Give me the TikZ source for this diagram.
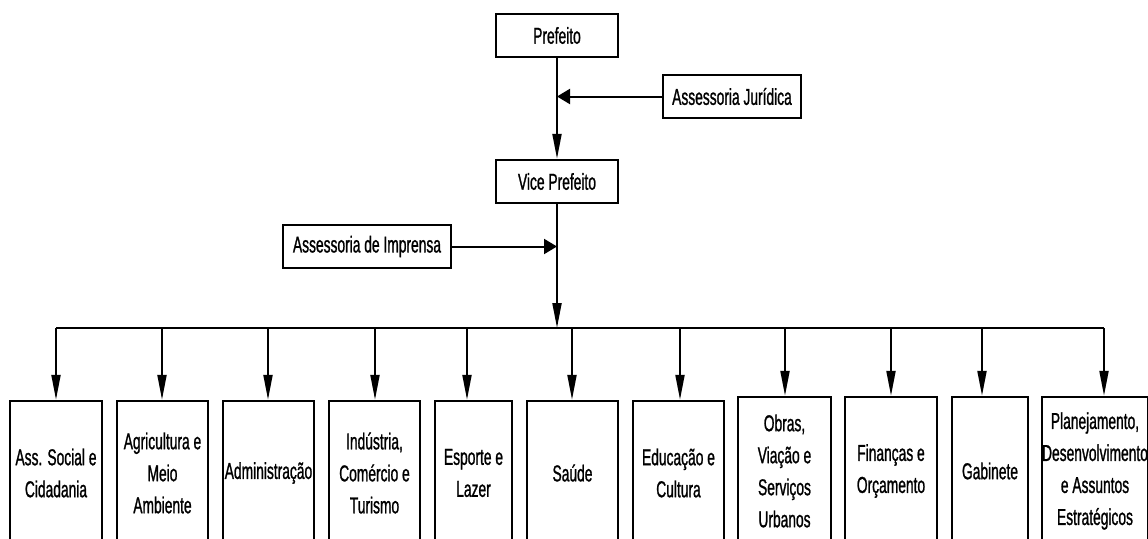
\documentclass[tikz,border=0pt]{standalone}
\usepackage{fontspec}
\setmainfont{Liberation Sans}[FakeStretch=0.6,FakeBold=1]
\usetikzlibrary{arrows.meta}
\begin{document}
\begin{tikzpicture}[x=1pt,y=-1pt,
  box/.style={draw=black, line width=2.4pt, inner sep=0pt, align=center,
    font=\fontsize{23}{32}\selectfont, minimum height=43pt},
  dept/.style={box, minimum height=144pt},
  conn/.style={draw=black, line width=2pt},
  va/.style={conn, -{Triangle[length=25pt,width=9pt]}},
  ha/.style={conn, -{Triangle[length=13pt,width=15pt]}}]
\useasboundingbox[fill=white] (0,0) rectangle (1148,538);
% top
\node[box, minimum width=122pt] (pref) at (557,35.5) {Prefeito};
\node[box, minimum width=138pt] (jur) at (732,96.5) {Assessoria Jurídica};
\node[box, minimum width=122pt] (vice) at (557,181.5) {Vice Prefeito};
\node[box, minimum width=168pt] (imp) at (367,246.5) {Assessoria de Imprensa};
\coordinate (cj) at (557,96.5);
\coordinate (ci) at (557,246.5);
\coordinate (bar) at (557,328);
\coordinate (barL) at (56,328);
\coordinate (barR) at (1104,328);
\draw[va] (pref.south) -- (vice.north);
\draw[ha] (jur.west) -- (cj);
\draw[va] (vice.south) -- (bar);
\draw[ha] (imp.east) -- (ci);
\draw[conn, line width=2.4pt] (barL) -- (barR);
% departments
\node[dept, minimum width=92pt] (d1) at (56,473) {Ass. Social e\\Cidadania};
\node[dept, minimum width=91pt] (d2) at (162.5,473) {Agricultura e\\Meio\\Ambiente};
\node[dept, minimum width=91pt] (d3) at (268.5,473) {Administração};
\node[dept, minimum width=91pt] (d4) at (374.5,473) {Indústria,\\Comércio e\\Turismo};
\node[dept, minimum width=77pt] (d5) at (473.5,473) {Esporte e\\Lazer};
\node[dept, minimum width=91pt] (d6) at (572.5,473) {Saúde};
\node[dept, minimum width=91pt] (d7) at (678.5,473) {Educação e\\Cultura};
\node[dept, minimum width=93pt, minimum height=148pt] (d8) at (784.5,471) {Obras,\\Viação e\\Serviços\\Urbanos};
\node[dept, minimum width=92pt, minimum height=148pt] (d9) at (891,471) {Finanças e\\Orçamento};
\node[dept, minimum width=76pt, minimum height=148pt] (d10) at (990,471) {Gabinete};
\node[dept, minimum width=104pt, minimum height=148pt] (d11) at (1095,471) {Planejamento,\\Desenvolvimento\\e Assuntos\\Estratégicos};
% drops
\foreach \i/\x in {1/56,2/162,3/268,4/375,5/467,6/572,7/680,8/785,9/891,10/982,11/1104}{
  \coordinate (t\i) at (\x,328);
  \draw[va] (t\i) -- (t\i |- d\i.north);
}
\end{tikzpicture}
\end{document}
